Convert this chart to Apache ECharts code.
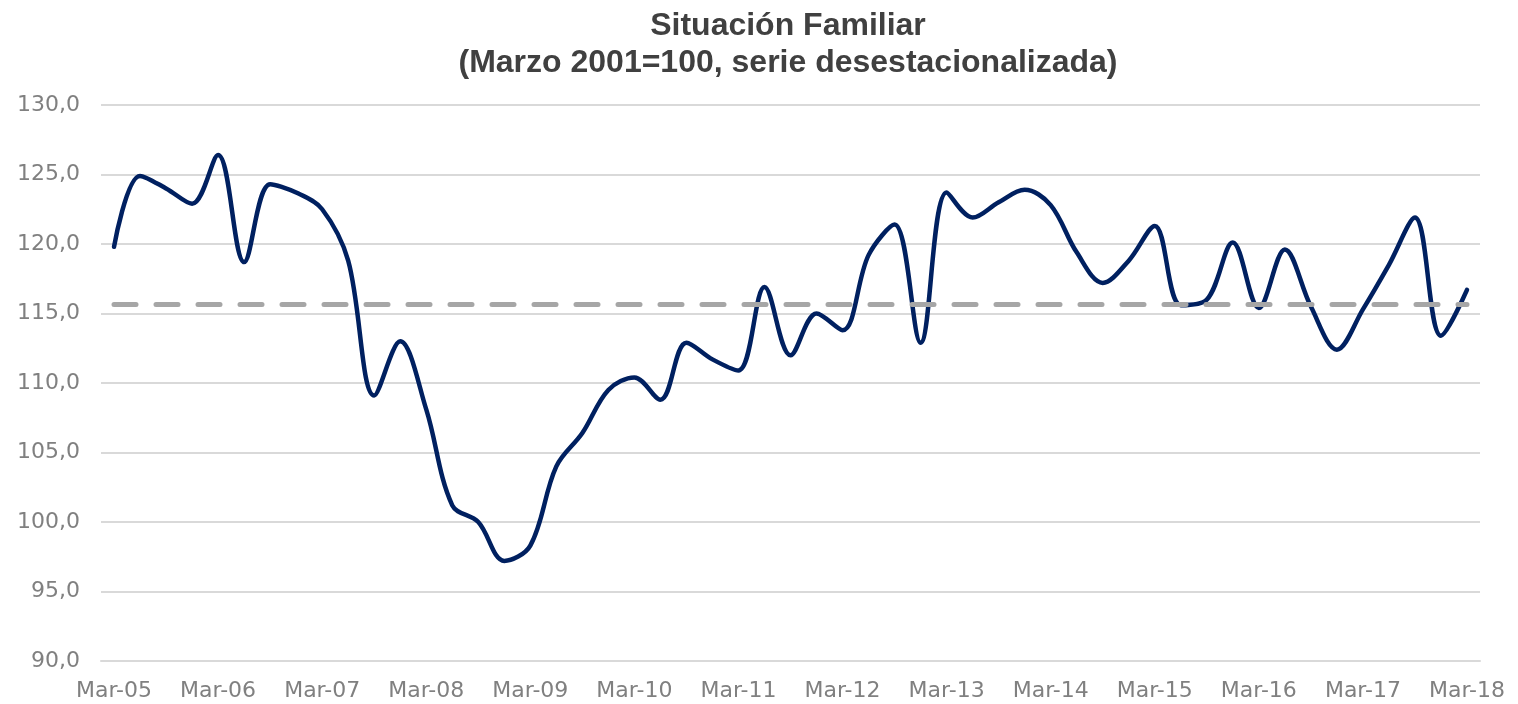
<!DOCTYPE html>
<html>
<head>
<meta charset="utf-8">
<script src="https://cdn.jsdelivr.net/npm/echarts@6/dist/echarts.min.js"></script>
<style>
  html, body { margin: 0; padding: 0; background: #fff; }
  #situacionChart { width: 1518px; height: 704px; }
</style>
</head>
<body>
<div id="situacionChart"></div>
<script>
// trimestres Mar-05 .. Mar-18
var meses = ['Mar', 'Jun', 'Sep', 'Dic'];
var anios = ['05', '06', '07', '08', '09', '10', '11', '12', '13', '14', '15', '16', '17', '18'];

// serie desestacionalizada
var situacionFamiliar = [
  119.8, 124.9, 124.0, 122.9, 126.4, 118.7, 124.3, 123.7, 122.5, 118.8,
  109.1, 113.0, 108.1, 101.2, 100.0, 97.2, 98.3, 104.0, 106.4, 109.5,
  110.4, 108.8, 112.9, 111.7, 110.9, 116.9, 112.0, 115.0, 113.8, 119.2,
  121.4, 112.9, 123.7, 121.9, 123.0, 123.9, 122.8, 119.4, 117.2, 118.8,
  121.3, 115.6, 116.0, 120.1, 115.4, 119.6, 115.5, 112.4, 115.3, 118.5,
  121.9, 113.4, 116.7
];

var promedio = 115.7;

var ejeY = { min: 90, max: 130, intervalo: 5 };

var categorias = [];
anios.forEach(function (a, idx) {
  meses.forEach(function (m, j) {
    if (idx === anios.length - 1 && j > 0) return;
    categorias.push(m + '-' + a);
  });
});

var chart = echarts.init(document.getElementById('situacionChart'));
chart.setOption({
  animation: false,
  title: {
    text: 'Situación Familiar\n(Marzo 2001=100, serie desestacionalizada)',
    left: 783,
    textAlign: 'center',
    top: 3,
    textStyle: {
      fontFamily: 'Liberation Sans',
      fontWeight: 'bold',
      fontSize: 32,
      lineHeight: 37,
      color: '#404040'
    }
  },
  grid: { left: 101, right: 38, top: 105, bottom: 43 },
  xAxis: {
    type: 'category',
    data: categorias,
    boundaryGap: true,
    axisLine: { lineStyle: { color: '#d9d9d9', width: 2 } },
    axisTick: { show: false },
    axisLabel: {
      interval: 3,
      margin: 19,
      color: '#808080',
      fontFamily: 'DejaVu Sans',
      fontSize: 22
    }
  },
  yAxis: {
    type: 'value',
    min: ejeY.min,
    max: ejeY.max,
    interval: ejeY.intervalo,
    axisLine: { show: false },
    axisTick: { show: false },
    splitLine: { lineStyle: { color: '#d9d9d9', width: 2 } },
    axisLabel: {
      margin: 21,
      color: '#808080',
      fontFamily: 'DejaVu Sans',
      fontSize: 22,
      formatter: function (v) { return v.toFixed(1).replace('.', ','); }
    }
  },
  series: [
    {
      name: 'Situación Familiar',
      type: 'line',
      data: situacionFamiliar,
      smooth: 0.35,
      symbol: 'none',
      lineStyle: { color: '#002060', width: 4.5, cap: 'round' },
      markLine: {
        silent: true,
        symbol: 'none',
        label: { show: false },
        lineStyle: { color: '#a6a6a6', width: 5, type: [22, 20], cap: 'round' },
        data: [[
          { coord: [0, promedio] },
          { coord: [categorias.length - 1, promedio] }
        ]]
      },
      z: 3
    }
  ]
});
</script>
</body>
</html>
